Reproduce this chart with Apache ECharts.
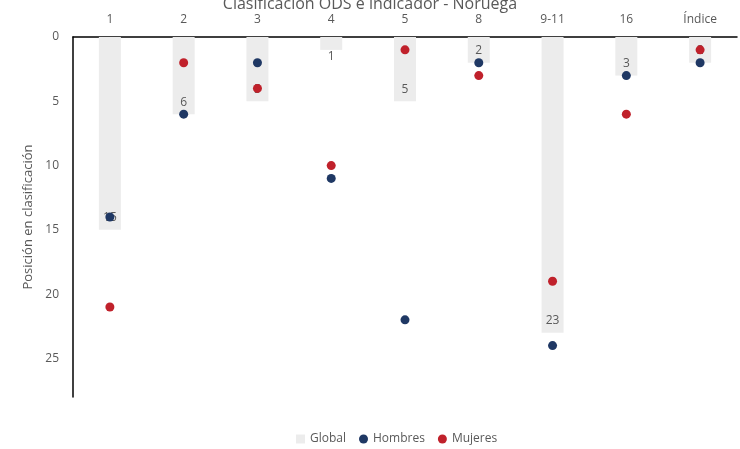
<!DOCTYPE html>
<html>
<head>
<meta charset="utf-8">
<script src="https://cdn.jsdelivr.net/npm/echarts@6/dist/echarts.min.js"></script>
<style>html,body{margin:0;padding:0;background:#fff}#c{width:740px;height:449px}</style>
</head>
<body>
<div id="c"></div>
<script>
var categories = ['1', '2', '3', '4', '5', '8', '9-11', '16', 'Índice'];
var globalVals = [15, 6, 5, 1, 5, 2, 23, 3, 2];
var hombresVals = [14, 6, 2, 11, 22, 2, 24, 3, 2];
var mujeresVals = [21, 2, 4, 10, 1, 3, 19, 6, 1];
var yTicks = [0, 5, 10, 15, 20, 25];

var chart = echarts.init(document.getElementById('c'));
var txt = '#595959';
var globalData = globalVals.map(function (v) {
  var d = { value: v };
  if (v <= 1) d.label = { position: 'bottom', distance: 1 };
  return d;
});
chart.setOption({
  animation: false,
  title: {
    text: 'Clasificación ODS e indicador - Noruega',
    left: 'center', top: -9,
    textStyle: { color: txt, fontSize: 16, fontWeight: 'normal', fontFamily: 'Open Sans' }
  },
  legend: {
    bottom: -1, left: 291, itemGap: 13, itemWidth: 9, itemHeight: 9,
    textStyle: { color: txt, fontSize: 12, fontFamily: 'Open Sans' },
    data: [{ name: 'Global', icon: 'rect' }, { name: 'Hombres', icon: 'circle' }, { name: 'Mujeres', icon: 'circle' }]
  },
  grid: { left: 73, right: 3, top: 37, bottom: 52 },
  xAxis: {
    type: 'category', position: 'top', data: categories,
    axisLine: { lineStyle: { color: '#000', width: 1.5 } },
    axisTick: { show: false },
    axisLabel: { color: txt, fontSize: 12, fontFamily: 'Open Sans', margin: 11 }
  },
  yAxis: {
    type: 'value', inverse: true, min: 0, max: 28, interval: 5,
    name: 'Posición en clasificación', nameLocation: 'middle', nameGap: 32,
    nameTextStyle: { color: txt, fontSize: 13, fontFamily: 'Open Sans' },
    axisLine: { show: true, lineStyle: { color: '#000', width: 1.5 } },
    axisTick: { show: false },
    splitLine: { show: false },
    axisLabel: {
      color: txt, fontSize: 12, fontFamily: 'Open Sans', margin: 14,
      formatter: function (v) { return yTicks.indexOf(v) >= 0 ? String(v) : ''; }
    }
  },
  series: [
    {
      name: 'Global', type: 'bar', data: globalData, barWidth: 22,
      itemStyle: { color: '#ececec' },
      label: { show: true, position: 'insideBottom', distance: 6, color: txt, fontSize: 12, fontFamily: 'Open Sans' },
      z: 2
    },
    {
      name: 'Hombres', type: 'scatter', data: hombresVals, symbolSize: 9,
      itemStyle: { color: '#1f3864', opacity: 1 }, zlevel: 1, z: 5
    },
    {
      name: 'Mujeres', type: 'scatter', data: mujeresVals, symbolSize: 9,
      itemStyle: { color: '#c0212b', opacity: 1 }, zlevel: 1, z: 5
    }
  ]
});
</script>
</body>
</html>
